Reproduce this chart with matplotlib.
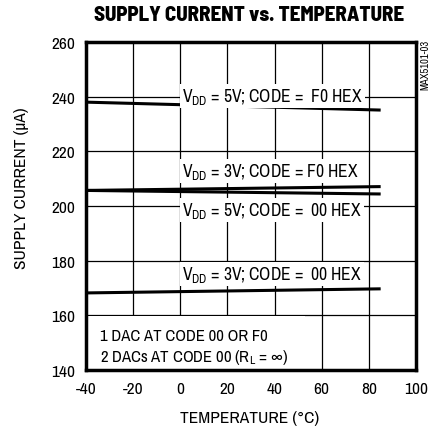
import matplotlib.pyplot as plt
from matplotlib import font_manager
from matplotlib.patches import Rectangle

names = {f.name for f in font_manager.fontManager.ttflist}
narrow = 'Liberation Sans Narrow' if 'Liberation Sans Narrow' in names else 'Archivo Narrow'
heavy = 'Barlow Semi Condensed' if 'Barlow Semi Condensed' in names else narrow
plt.rcParams['font.family'] = [narrow, 'DejaVu Sans']
plt.rcParams['mathtext.fontset'] = 'custom'
plt.rcParams['mathtext.rm'] = narrow
plt.rcParams['mathtext.it'] = narrow
plt.rcParams['axes.unicode_minus'] = False

# data
temp_ends = [-40, 85]
vdd5_f0 = [238.0, 235.1]
vdd3_f0 = [205.7, 207.1]
vdd5_00 = [205.7, 204.4]
vdd3_00 = [168.2, 169.7]

label_text = ['V$_{\\mathregular{DD}}$ = 5V; CODE =  F0 HEX',
              'V$_{\\mathregular{DD}}$ = 3V; CODE = F0 HEX',
              'V$_{\\mathregular{DD}}$ = 5V; CODE =  00 HEX',
              'V$_{\\mathregular{DD}}$ = 3V; CODE =  00 HEX']
label_y = [240.2, 212.8, 198.6, 175.1]

fig = plt.figure(figsize=(4.42, 4.31), dpi=100)
ax = fig.add_axes([0.1946, 0.1392, 0.7466, 0.761])

for ys in [vdd5_f0, vdd3_f0, vdd5_00, vdd3_00]:
    ax.plot(temp_ends, ys, color='black', linewidth=2.2, solid_capstyle='butt', zorder=3)

for txt, y in zip(label_text, label_y):
    ax.text(0.8, y, txt, fontsize=12.6, va='center', ha='left', zorder=4,
            bbox=dict(facecolor='white', edgecolor='none', pad=1.5))

# white panel behind the note in the lower left
ax.add_patch(Rectangle((-40, 140), 93, 19.6, facecolor='white', edgecolor='none', zorder=2.5))
ax.text(-34, 152.8, '1 DAC AT CODE 00 OR F0', fontsize=12, va='center', zorder=4)
ax.text(-34, 144.9, '2 DACs AT CODE 00 (R$_{\\mathregular{L}}$ = \u221e)', fontsize=12,
        va='center', zorder=4)

ax.set_xlim(-40, 100)
ax.set_ylim(140, 260)
ax.set_xticks(range(-40, 101, 20))
ax.set_yticks(range(140, 261, 20))
ax.grid(True, color='black', linewidth=0.9)
ax.set_axisbelow(True)
ax.tick_params(length=0, labelsize=12.5, pad=8)
for s in ax.spines.values():
    s.set_linewidth(2.5)
    s.set_zorder(5)

ax.set_xlabel('TEMPERATURE (\u00b0C)', fontsize=12.5)
ax.xaxis.set_label_coords(0.497, -0.122)
ax.set_ylabel('SUPPLY CURRENT (\u00b5A)', fontsize=12.5)
ax.yaxis.set_label_coords(-0.173, 0.558)
fig.text(0.563, 0.963, 'SUPPLY CURRENT vs. TEMPERATURE', fontsize=15, fontweight='heavy',
         family=[heavy, 'DejaVu Sans'], ha='center', va='center')
fig.text(0.962, 0.849, 'MAX5101-03', fontsize=7.5, rotation=90, ha='center', va='center')

fig.savefig('out.png', dpi=100)
